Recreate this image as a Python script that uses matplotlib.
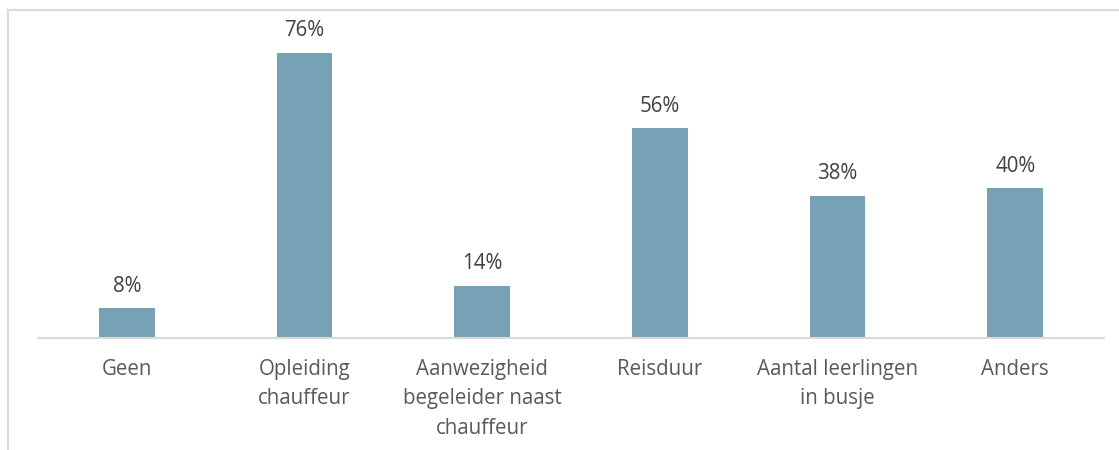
import matplotlib
matplotlib.use("Agg")
import matplotlib.pyplot as plt
from matplotlib.patches import Rectangle

categories = ["Geen", "Opleiding\nchauffeur", "Aanwezigheid\nbegeleider naast\nchauffeur",
              "Reisduur", "Aantal leerlingen\nin busje", "Anders"]
values = [8, 76, 14, 56, 38, 40]
value_labels = ["8%", "76%", "14%", "56%", "38%", "40%"]

W, H = 1119, 450
fig = plt.figure(figsize=(W / 100, H / 100), dpi=100)
plt.rcParams['font.family'] = ['Open Sans', 'DejaVu Sans']

# chart border (right and bottom edges lie outside the picture)
fig.patches.append(Rectangle((8 / W, -0.1), 1.2, 440 / H + 0.1,
                             transform=fig.transFigure, fill=False,
                             edgecolor="#D9D9D9", linewidth=1.5))
fig.text(9 / W, 1 + 3 / H, "(n = 50)", ha="left", va="baseline",
         fontsize=14.8, color="#000000")

ax = fig.add_axes([38 / W, 1 - 338 / H, 1066 / W, 300 / H])
x = range(len(categories))
ax.bar(x, values, width=0.315, color="#77A1B5")
ax.set_xlim(-0.5, len(categories) - 0.5)
ax.set_ylim(0, 80)
for xi, v, lab in zip(x, values, value_labels):
    ax.annotate(lab, (xi, v), xytext=(0, 22 * 0.72), textcoords="offset points",
                ha="center", va="center", fontsize=14.8, color="#404040")
ax.set_xticks(list(x))
ax.set_xticklabels(categories, fontsize=14.8, color="#595959", linespacing=1.53)
ax.tick_params(axis="x", length=0, pad=15)
ax.set_yticks([])
for s in ["top", "right", "left"]:
    ax.spines[s].set_visible(False)
ax.spines["bottom"].set_color("#D9D9D9")
ax.spines["bottom"].set_linewidth(1.5)

fig.savefig("out.png", dpi=100)
